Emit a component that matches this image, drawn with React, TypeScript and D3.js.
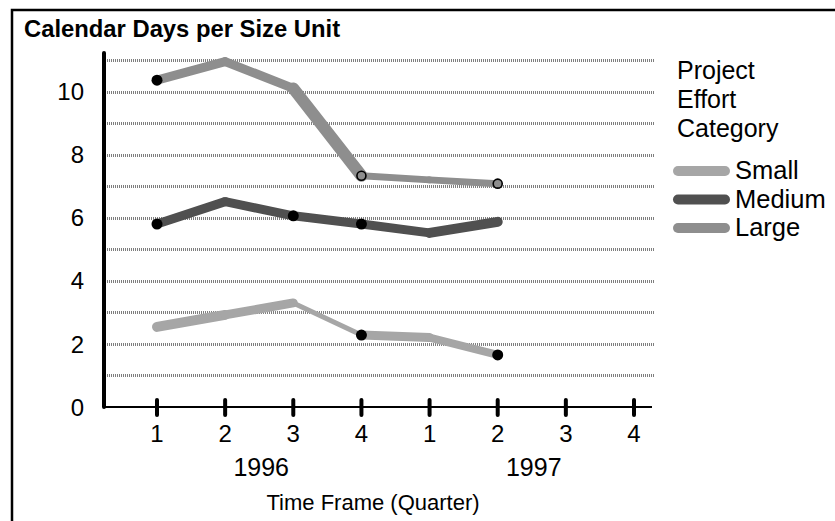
import { useMemo } from 'react';
import { scaleLinear, line } from 'd3';

const WIDTH = 835;
const HEIGHT = 521;
const FONT = '"Liberation Sans", Arial, Helvetica, sans-serif';

// quarters along the x axis
const QUARTERS = ['1', '2', '3', '4', '1', '2', '3', '4'];
const YEARS = ['1996', '1997'];
const Y_TICKS = [0, 2, 4, 6, 8, 10];
const GRID_VALUES = [1, 2, 3, 4, 5, 6, 7, 8, 9, 10, 11];

// calendar days per size unit, 1996 Q1 .. 1997 Q2
const SMALL = [2.54, 2.92, 3.3, 2.28, 2.2, 1.65];
const MEDIUM = [5.8, 6.51, 6.06, 5.8, 5.52, 5.87];
const LARGE = [10.36, 10.95, 10.1, 7.33, 7.2, 7.08];

// marker kind per point: 'f' filled dot, 'h' hollow dot, '' none
const SMALL_MARKS = ['', '', '', 'f', '', 'f'];
const MEDIUM_MARKS = ['f', '', 'f', 'f', '', ''];
const LARGE_MARKS = ['f', '', '', 'h', '', 'h'];

const SERIES = [
  { name: 'Small', values: SMALL, marks: SMALL_MARKS, color: '#a6a6a6', widths: [10, 9, 5, 9, 8] },
  { name: 'Medium', values: MEDIUM, marks: MEDIUM_MARKS, color: '#505050', widths: [9, 9, 9, 9, 10] },
  { name: 'Large', values: LARGE, marks: LARGE_MARKS, color: '#8e8e8e', widths: [9, 9, 12, 7, 7] },
];

const LEGEND_TITLE = ['Project', 'Effort', 'Category'];

const PLOT = { left: 104, right: 652, top: 53, bottom: 407 };

export default function App() {
  const { x, y } = useMemo(() => {
    const x = scaleLinear().domain([0, QUARTERS.length - 1]).range([157, 634]);
    const y = scaleLinear().domain([0, 11]).range([PLOT.bottom, 60]);
    return { x, y };
  }, []);

  const seg = line<[number, number]>()
    .x((d) => d[0])
    .y((d) => d[1]);

  return (
    <svg
      width={WIDTH}
      height={HEIGHT}
      viewBox={`0 0 ${WIDTH} ${HEIGHT}`}
      style={{ position: 'absolute', left: 0, top: 0, background: '#fff', fontFamily: FONT }}
    >
      <rect x={12} y={10} width={900} height={600} fill="#fff" stroke="#000" strokeWidth={2.5} />

      <text x={24} y={37} fontSize={23.8} fontWeight="bold" fill="#000">
        Calendar Days per Size Unit
      </text>

      {/* dotted gridlines */}
      {GRID_VALUES.map((v) => (
        <line
          key={v}
          x1={107}
          x2={655}
          y1={Math.round(y(v)) + 0.5}
          y2={Math.round(y(v)) + 0.5}
          stroke="#7e7e7e"
          strokeWidth={3}
          strokeDasharray="1 1"
        />
      ))}

      {/* y axis */}
      <line x1={PLOT.left} x2={PLOT.left} y1={PLOT.top} y2={PLOT.bottom} stroke="#000" strokeWidth={4} strokeLinecap="round" />
      {Y_TICKS.map((t) => (
        <text key={t} x={84} y={y(t)} dy="0.36em" textAnchor="end" fontSize={24} fill="#000">
          {t}
        </text>
      ))}

      {/* x axis */}
      <line x1={PLOT.left} x2={PLOT.right} y1={PLOT.bottom} y2={PLOT.bottom} stroke="#000" strokeWidth={2} />
      {QUARTERS.map((q, i) => (
        <g key={i}>
          <line x1={x(i)} x2={x(i)} y1={400} y2={415} stroke="#000" strokeWidth={4} strokeLinecap="round" />
          <text x={x(i)} y={442} textAnchor="middle" fontSize={24} fill="#000">
            {q}
          </text>
        </g>
      ))}
      {YEARS.map((yr, i) => (
        <text key={yr} x={(x(i * 4 + 1) + x(i * 4 + 2)) / 2 + 2} y={476} textAnchor="middle" fontSize={25} fill="#000">
          {yr}
        </text>
      ))}
      <text x={373} y={510} textAnchor="middle" fontSize={22} fill="#000">
        Time Frame (Quarter)
      </text>

      {/* series lines, drawn segment by segment */}
      {SERIES.map((s) => (
        <g key={s.name}>
          {s.values.slice(1).map((v, i) => (
            <path
              key={i}
              d={seg([
                [x(i), y(s.values[i])],
                [x(i + 1), y(v)],
              ]) ?? ''}
              fill="none"
              stroke={s.color}
              strokeWidth={s.widths[i]}
              strokeLinecap="round"
            />
          ))}
        </g>
      ))}

      {/* markers */}
      {SERIES.map((s) =>
        s.marks.map((m, i) =>
          m === 'f' ? (
            <circle key={`${s.name}-${i}`} cx={x(i)} cy={y(s.values[i])} r={5.5} fill="#000" />
          ) : m === 'h' ? (
            <circle key={`${s.name}-${i}`} cx={x(i)} cy={y(s.values[i])} r={4.5} fill={s.color} stroke="#000" strokeWidth={1.6} />
          ) : null
        )
      )}

      {/* legend */}
      {LEGEND_TITLE.map((t, i) => (
        <text key={t} x={677} y={79 + i * 29} fontSize={25} fill="#000">
          {t}
        </text>
      ))}
      {SERIES.map((s, i) => (
        <g key={s.name}>
          <line x1={678} x2={725} y1={171 + i * 28.5} y2={171 + i * 28.5} stroke={s.color} strokeWidth={10} strokeLinecap="round" />
          <text x={735} y={179 + i * 28.5} fontSize={25.5} fill="#000">
            {s.name}
          </text>
        </g>
      ))}
    </svg>
  );
}
